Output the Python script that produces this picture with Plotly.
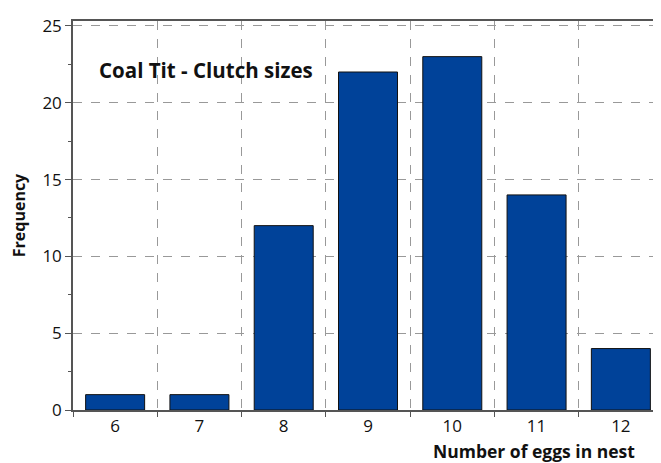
import plotly.graph_objects as go

categories = ["6", "7", "8", "9", "10", "11", "12"]
frequency = [1, 1, 12, 22, 23, 14, 4]
title_text = "Coal Tit - Clutch sizes"
x_title = "Number of eggs in nest"
y_title = "Frequency"

FONT = "'Open Sans', Lato, sans-serif"

fig = go.Figure()
fig.add_trace(go.Bar(
    x=categories, y=frequency, width=0.7,
    marker=dict(color="#004299", line=dict(color="#111111", width=1)),
))

fig.update_layout(
    width=661, height=463,
    margin=dict(l=65, r=6, t=6, b=61),
    plot_bgcolor="white", paper_bgcolor="white",
    font=dict(family=FONT, size=17, color="#111111"),
    showlegend=False,
)
fig.update_xaxes(
    type="category", range=[-0.5, 6.5],
    tickson="boundaries", ticks="outside", ticklen=5, tickcolor="#555555",
    showline=True, linecolor="#555555", linewidth=1.5, mirror=True,
    showgrid=True, gridcolor="#999999", griddash="dash", gridwidth=1,
    tickfont=dict(size=17),
)
fig.update_yaxes(
    range=[0, 25.32], tickvals=[0, 5, 10, 15, 20, 25],
    ticks="outside", ticklen=6, tickcolor="#555555",
    minor=dict(dtick=2.5, ticks="outside", ticklen=3, tickcolor="#555555", showgrid=False),
    showline=True, linecolor="#555555", linewidth=1.5,
    showgrid=True, gridcolor="#999999", griddash="dash", gridwidth=1,
    zeroline=False,
    title=dict(text=f"<b>{y_title}</b>", font=dict(size=16), standoff=16),
    tickfont=dict(size=17),
)
fig.add_annotation(
    text=f"<b>{title_text}</b>", xref="paper", yref="paper",
    x=0.041, y=0.874, xanchor="left", yanchor="middle", showarrow=False,
    font=dict(size=20.5),
)
fig.add_annotation(
    text=f"<b>{x_title}</b>", xref="paper", yref="paper",
    x=0.956, y=0, xanchor="right", yanchor="top", yshift=-27, showarrow=False,
    font=dict(size=17.5),
)
fig.write_html("out.html")
